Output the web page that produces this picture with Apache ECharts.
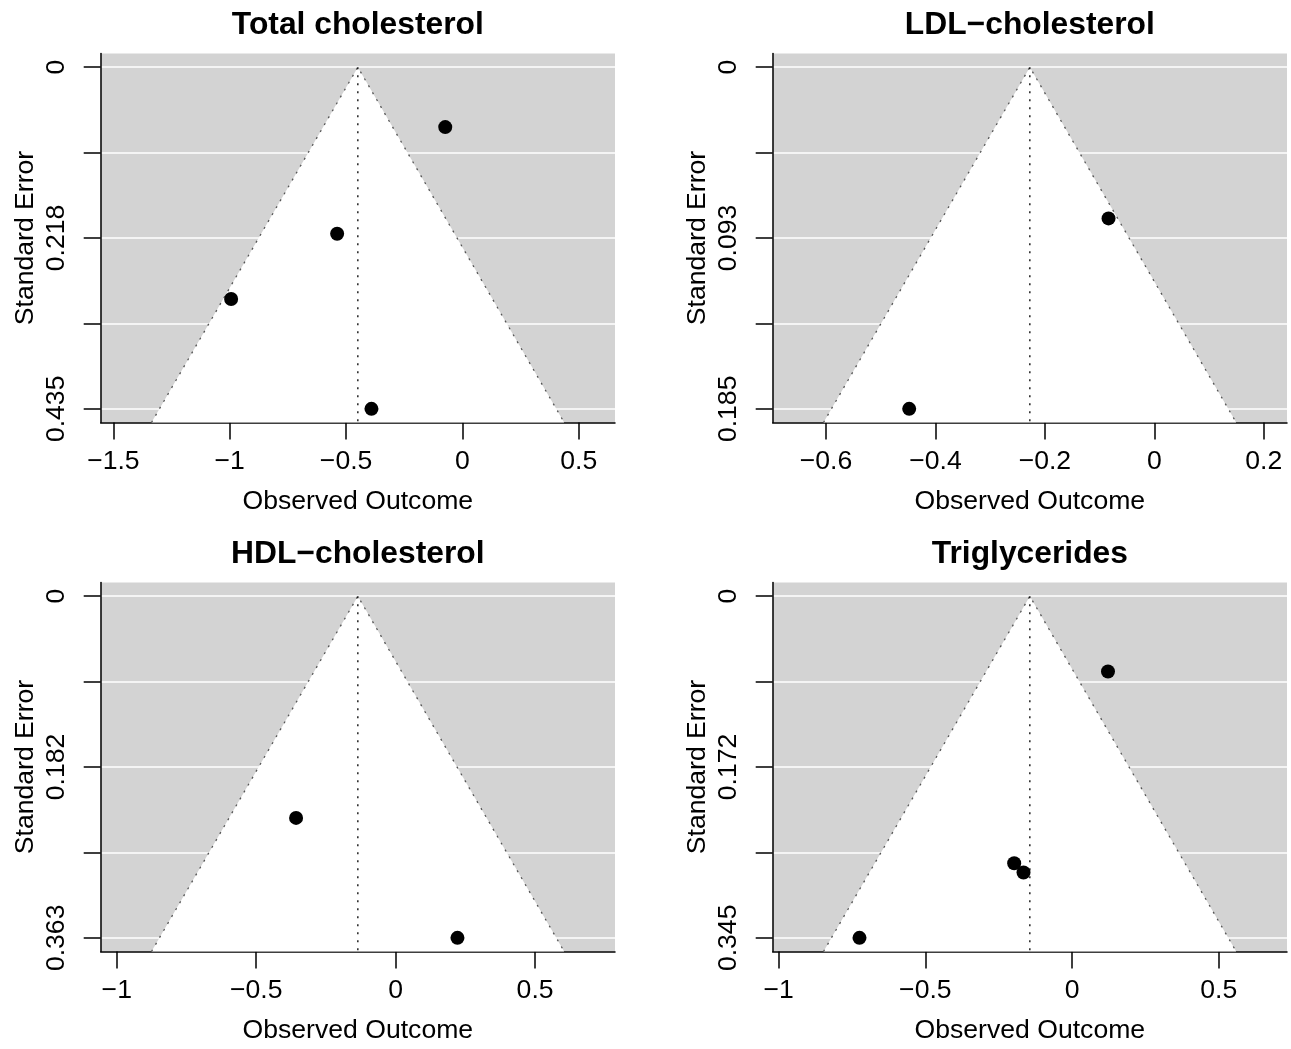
<!DOCTYPE html>
<html><head><meta charset="utf-8">
<script src="https://cdn.jsdelivr.net/npm/echarts@6/dist/echarts.min.js"></script>
<style>html,body{margin:0;padding:0;background:#fff}#c{width:1291px;height:1049px}</style>
</head><body><div id="c"></div>
<script>
// ---- data ----
const panelTitles = ['Total cholesterol', 'LDL\u2212cholesterol', 'HDL\u2212cholesterol', 'Triglycerides'];
const totalX  = [-0.074, -0.5385, -0.994, -0.391];
const totalSE = [0.0763, 0.2120, 0.2951, 0.435];
const ldlX  = [-0.0837, -0.448];
const ldlSE = [0.0819, 0.185];
const hdlX  = [-0.357, 0.2217];
const hdlSE = [0.2356, 0.363];
const trigX  = [0.1224, -0.1973, -0.1655, -0.7245];
const trigSE = [0.0760, 0.2697, 0.2791, 0.345];
const pooledEstimates = [-0.4495, -0.2275, -0.1355, -0.1439];
const xTickValues = [[-1.5, -1, -0.5, 0, 0.5], [-0.6, -0.4, -0.2, 0, 0.2], [-1, -0.5, 0, 0.5], [-1, -0.5, 0, 0.5]];
const yTickLabels = [['0', '0.218', '0.435'], ['0', '0.093', '0.185'], ['0', '0.182', '0.363'], ['0', '0.172', '0.345']];
const xAxisTitle = 'Observed Outcome';
const yAxisTitle = 'Standard Error';

const panelX = [totalX, ldlX, hdlX, trigX];
const panelSE = [totalSE, ldlSE, hdlSE, trigSE];

// ---- layout (pixels) ----
const gridLeft = [100.7, 772.7, 100.7, 772.7];
const gridTop = [53.5, 53.5, 582.5, 582.5];
const gridW = 514.3, gridH = 369;
const FONT = '"Liberation Sans", Arial, Helvetica, sans-serif';
const LABEL_SIZE = 26.6, TITLE_SIZE = 31.8;
const Z = 1.96;

const grids = [], xAxes = [], yAxes = [], series = [], titles = [];

for (let i = 0; i < 4; i++) {
  const xs = panelX[i], ses = panelSE[i], est = pooledEstimates[i];
  const seMax = Math.max(...ses);
  const ymin = -0.04 * seMax, ymax = 1.04 * seMax;
  let lo = Math.min(est - Z * seMax, Math.min(...xs));
  let hi = Math.max(est + Z * seMax, Math.max(...xs));
  let r = hi - lo; lo -= 0.1 * r; hi += 0.1 * r;
  r = hi - lo;
  const xmin = lo - 0.04 * r, xmax = hi + 0.04 * r;
  const seBot = ymax;

  grids.push({
    left: gridLeft[i], top: gridTop[i], width: gridW, height: gridH,
    show: true, backgroundColor: '#d3d3d3', borderWidth: 0,
    containLabel: false, outerBoundsMode: 'none'
  });

  const xt = xTickValues[i];
  xAxes.push({
    type: 'value', gridIndex: i, min: xmin, max: xmax, position: 'bottom',
    axisLine: { show: true, onZero: false, lineStyle: { color: '#000', width: 1.5 } },
    axisTick: { show: true, inside: false, length: 17, customValues: xt, lineStyle: { color: '#000', width: 1.5 } },
    axisLabel: {
      show: true, customValues: xt, margin: 26, color: '#000', fontSize: LABEL_SIZE, fontFamily: FONT,
      formatter: v => String(v).replace('-', '\u2212')
    },
    splitLine: { show: false },
    name: xAxisTitle, nameLocation: 'middle', nameGap: 66,
    nameTextStyle: { color: '#000', fontSize: LABEL_SIZE, fontFamily: FONT }
  });

  const yt = [0, 0.25, 0.5, 0.75, 1].map(f => f * seMax);
  const yl = [0, 0.5, 1].map(f => f * seMax);
  const labels = yTickLabels[i];
  yAxes.push({
    type: 'value', gridIndex: i, min: ymin, max: ymax, inverse: true, position: 'left',
    axisLine: { show: true, onZero: false, lineStyle: { color: '#000', width: 1.5 } },
    axisTick: { show: true, inside: false, length: 17, customValues: yt, lineStyle: { color: '#000', width: 1.5 } },
    axisLabel: {
      show: true, customValues: yl, rotate: 90, margin: 31, color: '#000', fontSize: LABEL_SIZE, fontFamily: FONT,
      formatter: v => labels[Math.round(v / seMax * 2)]
    },
    splitLine: { show: true, lineStyle: { color: '#ffffff', width: 1.5 } },
    name: yAxisTitle, nameLocation: 'middle', nameGap: 62, nameRotate: 90,
    nameTextStyle: { color: '#000', fontSize: LABEL_SIZE, fontFamily: FONT }
  });

  // white funnel region
  series.push({
    type: 'custom', xAxisIndex: i, yAxisIndex: i, z: 1, silent: true,
    data: [[est - Z * seBot, seBot, est, 0, est + Z * seBot, seBot]],
    encode: { x: [0, 2, 4], y: [1, 3, 5] },
    renderItem: (params, api) => {
      const pts = [
        api.coord([api.value(0), api.value(1)]),
        api.coord([api.value(2), api.value(3)]),
        api.coord([api.value(4), api.value(5)])
      ];
      return { type: 'polygon', shape: { points: pts }, style: { fill: '#ffffff', stroke: null } };
    }
  });
  // funnel edges (dotted)
  series.push({
    type: 'line', xAxisIndex: i, yAxisIndex: i, z: 3, silent: true, showSymbol: false, symbol: 'none',
    data: [[est - Z * seBot, seBot], [est, 0], [est + Z * seBot, seBot]],
    lineStyle: { color: '#555', width: 1.3, type: [2, 6] }
  });
  // reference line at estimate
  series.push({
    type: 'line', xAxisIndex: i, yAxisIndex: i, z: 3, silent: true, showSymbol: false, symbol: 'none',
    data: [[est, 0], [est, seBot]],
    lineStyle: { color: '#000', width: 1.3, type: [2, 6] }
  });
  // study points
  series.push({
    type: 'scatter', xAxisIndex: i, yAxisIndex: i, z: 4,
    symbol: 'circle', symbolSize: 14,
    itemStyle: { color: '#000', opacity: 1 },
    data: xs.map((x, k) => [x, ses[k]])
  });

  titles.push({
    text: panelTitles[i], left: gridLeft[i] + gridW / 2, top: gridTop[i] - 44, textAlign: 'center', padding: 0,
    textStyle: { color: '#000', fontSize: TITLE_SIZE, fontWeight: 'bold', fontFamily: FONT }
  });
}

const chart = echarts.init(document.getElementById('c'), null, { renderer: 'canvas' });
chart.setOption({
  animation: false,
  backgroundColor: '#ffffff',
  title: titles,
  grid: grids,
  xAxis: xAxes,
  yAxis: yAxes,
  series: series
});
</script>
</body></html>
